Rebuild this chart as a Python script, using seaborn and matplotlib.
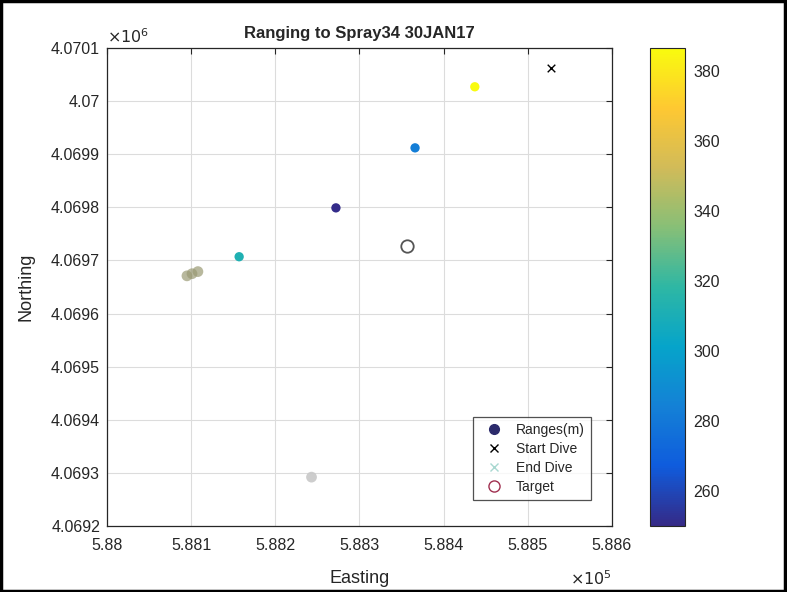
import numpy as np
import pandas as pd
import matplotlib
matplotlib.use("Agg")
import matplotlib.pyplot as plt
from matplotlib.colors import LinearSegmentedColormap, Normalize
from matplotlib.lines import Line2D
import matplotlib.patches as mpatches
import seaborn as sns

sns.set_style("white")
plt.rcParams['font.family'] = ['Liberation Sans', 'DejaVu Sans']

# ---- data ----
range_easting = [588437, 588366, 588272, 588157]
range_northing = [4070027, 4069912, 4069799, 4069707]
range_values = [386, 283, 251, 312]

faded_easting = [588095, 588101, 588108]
faded_northing = [4069671, 4069675, 4069679]
grey_easting = [588243]
grey_northing = [4069292]

start_easting = [588528]
start_northing = [4070063]

target_easting = [588356]
target_northing = [4069727]

x_ticks = [588000, 588100, 588200, 588300, 588400, 588500, 588600]
x_ticklabels = ["5.88", "5.881", "5.882", "5.883", "5.884", "5.885", "5.886"]
y_ticks = [4069200, 4069300, 4069400, 4069500, 4069600, 4069700, 4069800, 4069900, 4070000, 4070100]
y_ticklabels = ["4.0692", "4.0693", "4.0694", "4.0695", "4.0696", "4.0697", "4.0698", "4.0699", "4.07", "4.0701"]
cbar_ticks = [260, 280, 300, 320, 340, 360, 380]
clim = (250, 386.5)

parula_anchors = ["#352A87", "#0F5CDD", "#1481D6", "#06A4CA", "#2EB7A4",
                  "#87BF77", "#D1BB59", "#FEC832", "#F9FB0E"]
parula = LinearSegmentedColormap.from_list("parula", parula_anchors)
norm = Normalize(*clim)

df = pd.DataFrame({"Easting": range_easting, "Northing": range_northing, "Range": range_values})

fig = plt.figure(figsize=(7.87, 5.92), dpi=100)
ax = fig.add_axes([107/787, 66/592, 505/787, 478/592])

ax.grid(True, color="#dcdcdc", linewidth=0.8, zorder=0)
ax.set_axisbelow(True)

# faded cluster and grey point
ax.scatter(faded_easting, faded_northing, s=60, color="#9a9a74", alpha=0.7, edgecolors="none", zorder=2)
ax.scatter(grey_easting, grey_northing, s=60, color="#c8c8c8", alpha=0.9, edgecolors="none", zorder=2)

sns.scatterplot(data=df, x="Easting", y="Northing", hue="Range", palette=parula,
                hue_norm=norm, s=45, edgecolor="none", legend=False, ax=ax, zorder=3)

ax.scatter(start_easting, start_northing, marker="x", s=30, color="black", linewidths=1.0, zorder=3)
ax.scatter(target_easting, target_northing, marker="o", s=80, facecolors="white",
           edgecolors="#555555", linewidths=1.3, zorder=3)

ax.set_xlim(588000, 588600)
ax.set_ylim(4069200, 4070100)
ax.set_xticks(x_ticks)
ax.set_xticklabels(x_ticklabels)
ax.set_yticks(y_ticks)
ax.set_yticklabels(y_ticklabels)
ax.tick_params(direction="in", length=4, labelsize=11.5, colors="#262626", width=0.8)
ax.tick_params(axis="x", pad=9)
ax.tick_params(axis="y", pad=5)
ax.tick_params(top=True, right=True, labeltop=False, labelright=False)
for sp in ax.spines.values():
    sp.set_color("#262626")
    sp.set_linewidth(0.9)
    sp.set_visible(True)

ax.set_xlabel("Easting", fontsize=13, color="#262626", labelpad=12)
ax.set_ylabel("Northing", fontsize=13, color="#262626", labelpad=12)
ax.set_title("Ranging to Spray34 30JAN17", fontsize=12, fontweight="bold", pad=7)

ax.text(0.0, 1.005, r"$\times10^{6}$", transform=ax.transAxes, fontsize=11.5,
        color="#262626", ha="left", va="bottom")
ax.text(1.0, -0.09, r"$\times10^{5}$", transform=ax.transAxes, fontsize=11.5,
        color="#262626", ha="right", va="top")

handles = [
    Line2D([], [], marker="o", linestyle="none", color="#2b2a6b", markersize=7),
    Line2D([], [], marker="x", linestyle="none", color="black", markersize=6),
    Line2D([], [], marker="x", linestyle="none", color="#a8d8d0", markersize=6),
    Line2D([], [], marker="o", linestyle="none", markerfacecolor="white",
           markeredgecolor="#a03050", markersize=8),
]
leg = ax.legend(handles, ["Ranges(m)", "Start Dive", "End Dive", "Target"],
                loc="lower right", bbox_to_anchor=(0.972, 0.04), fontsize=10,
                frameon=True, fancybox=False, edgecolor="#262626",
                handletextpad=0.6, borderpad=0.45, labelspacing=0.35)
leg.get_frame().set_linewidth(0.9)

cax = fig.add_axes([650/787, 66/592, 35/787, 478/592])
sm = plt.cm.ScalarMappable(cmap=parula, norm=norm)
cb = fig.colorbar(sm, cax=cax, ticks=cbar_ticks)
cb.ax.tick_params(direction="in", length=4, labelsize=11.5, colors="#262626", pad=6)
cb.outline.set_edgecolor("#262626")

fig.patches.append(mpatches.Rectangle((0.001, 0.001), 0.997, 0.997, transform=fig.transFigure,
                                      fill=False, edgecolor="black", linewidth=2.5))

fig.savefig("out.png", dpi=100)
